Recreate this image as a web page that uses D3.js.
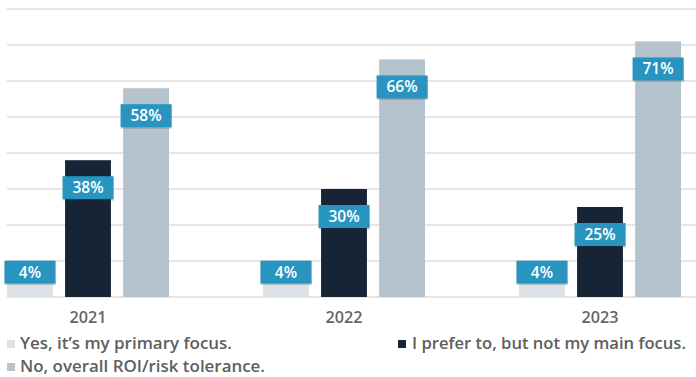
<!DOCTYPE html>
<html>
<head>
<meta charset="utf-8">
<script src="https://cdn.jsdelivr.net/npm/d3@7"></script>
<style>
  html, body { margin: 0; padding: 0; background: #ffffff; }
  svg { display: block; font-family: "Open Sans", "Noto Sans", sans-serif; }
</style>
</head>
<body>
<svg id="chart" width="696" height="377"></svg>
<script>
// Survey answers by year (percent of respondents)
const years = ["2021", "2022", "2023"];
const seriesNames = [
  "Yes, it\u2019s my primary focus.",
  "I prefer to, but not my main focus.",
  "No, overall ROI/risk tolerance."
];
const yesPrimary = [4, 4, 4];
const preferNotMain = [38, 30, 25];
const noRoiRisk = [58, 66, 71];
const gridTicks = [0, 10, 20, 30, 40, 50, 60, 70, 80];

const seriesValues = [yesPrimary, preferNotMain, noRoiRisk];
const barColors = ["#dde3e9", "#172435", "#b5c3cf"];
const labelBlue = "#2795bf";
const textGray = "#5e5e5e";

const svg = d3.select("#chart");

const y = d3.scaleLinear().domain([0, 80]).range([297, 9]);
const x0 = d3.scaleBand().domain(years).range([-40, 728]).paddingInner(0);
const x1 = d3.scaleBand().domain(d3.range(seriesNames.length))
  .range([x0.bandwidth() / 2 - 81, x0.bandwidth() / 2 + 81])
  .paddingInner(0.21);

// horizontal grid
svg.append("g").selectAll("line")
  .data(gridTicks)
  .join("line")
  .attr("x1", 7).attr("x2", 696)
  .attr("y1", d => y(d)).attr("y2", d => y(d))
  .attr("stroke", "#dcdcdc").attr("stroke-width", 1.6);

// flatten rows
const rows = [];
years.forEach((yr, i) => {
  seriesValues.forEach((vals, s) => rows.push({ year: yr, s, v: vals[i] }));
});

// bars
svg.append("g").selectAll("rect")
  .data(rows)
  .join("rect")
  .attr("x", d => x0(d.year) + x1(d.s))
  .attr("width", x1.bandwidth())
  .attr("y", d => y(d.v))
  .attr("height", d => y(0) - y(d.v))
  .attr("fill", d => barColors[d.s]);

// value labels on blue tabs
const boxW = 51, boxH = 23;
const boxTop = d => d.v < 10 ? y(d.v) - boxH + 1 : y(d.v) + 16;
const lab = svg.append("g").selectAll("g")
  .data(rows)
  .join("g")
  .attr("transform", d => {
    const cx = x0(d.year) + x1(d.s) + x1.bandwidth() / 2;
    return `translate(${cx - boxW / 2},${boxTop(d)})`;
  });
lab.append("rect")
  .attr("x", 0.5).attr("y", 1.5)
  .attr("width", boxW).attr("height", boxH)
  .attr("fill", "#1b3a4a").attr("opacity", 0.22);
lab.append("rect")
  .attr("width", boxW).attr("height", boxH)
  .attr("fill", labelBlue);
lab.append("text")
  .attr("x", boxW / 2).attr("y", boxH / 2 + 5.5)
  .attr("text-anchor", "middle")
  .attr("fill", "#ffffff")
  .attr("font-size", 15.5)
  .attr("font-weight", 600)
  .text(d => d.v + "%");

// year labels
svg.append("g").selectAll("text")
  .data(years)
  .join("text")
  .attr("x", d => x0(d) + x0.bandwidth() / 2)
  .attr("y", 323)
  .attr("text-anchor", "middle")
  .attr("fill", "#666666")
  .attr("font-size", 15.5)
  .attr("font-weight", 600)
  .attr("textLength", 37)
  .attr("lengthAdjust", "spacingAndGlyphs")
  .text(d => d);

// legend
const legendItems = [
  { s: 0, x: 7, y: 349, w: 212 },
  { s: 1, x: 398, y: 349, w: 274 },
  { s: 2, x: 7, y: 372, w: 245 }
];
const leg = svg.append("g").selectAll("g")
  .data(legendItems)
  .join("g")
  .attr("transform", d => `translate(${d.x},${d.y})`);
leg.append("rect")
  .attr("x", 0).attr("y", -9)
  .attr("width", 8).attr("height", 8)
  .attr("fill", d => barColors[d.s]);
leg.append("text")
  .attr("x", d => d.s === 1 ? 14 : 13)
  .attr("y", 0)
  .attr("fill", textGray)
  .attr("font-size", 15.5)
  .attr("font-weight", 600)
  .attr("textLength", d => d.w)
  .attr("lengthAdjust", "spacingAndGlyphs")
  .text(d => seriesNames[d.s]);
</script>
</body>
</html>
